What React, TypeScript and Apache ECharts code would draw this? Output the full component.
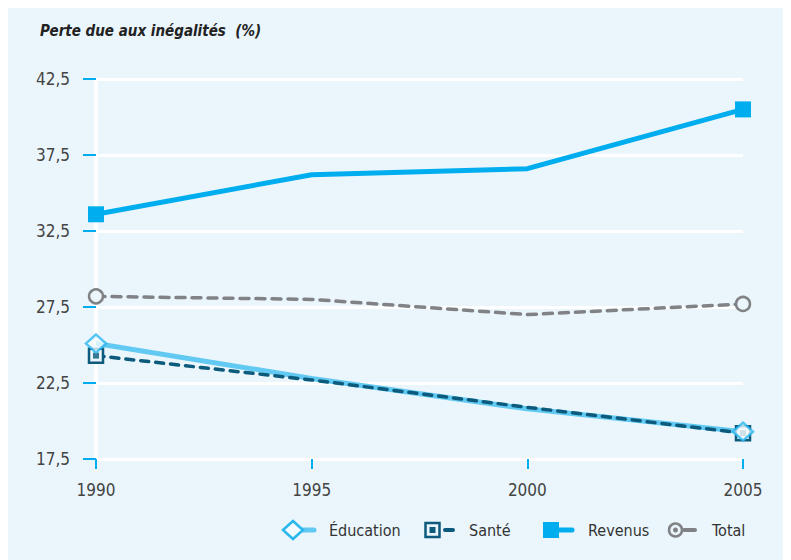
import React, { useEffect, useRef } from "react";
import * as echarts from "echarts";

const years = ["1990", "1995", "2000", "2005"];
const education = [25.1, 22.8, 20.8, 19.3];
const sante = [24.3, 22.7, 20.9, 19.2];
const revenus = [33.6, 36.2, 36.6, 40.5];
const total = [28.2, 28.0, 27.0, 27.7];
const seriesNames = ["Éducation", "Santé", "Revenus", "Total"];
const yMin = 17.5;
const yMax = 42.5;
const yStep = 5;

const BG = "#eaf6fc";
const C_EDU_LINE = "#62caf2";
const C_EDU_MARK = "#2ab7ee";
const C_SANTE = "#0c5a7c";
const C_REV = "#00aeef";
const C_TOT = "#808285";
const FONT = "'Liberation Sans Narrow', 'DejaVu Sans Condensed', sans-serif";

const isEnd = (i: number, arr: number[]) => i === 0 || i === arr.length - 1;
const endsOnlyLine = (arr: number[]) =>
  arr.map((v, i) => (isEnd(i, arr) ? v : { value: v, symbol: "none" }));
const endsOnlyScatter = (arr: number[]) =>
  arr.map((v, i) => [i, v]).filter((_, i) => isEnd(i, arr));

export default function App() {
  const ref = useRef<HTMLDivElement>(null);
  useEffect(() => {
    if (!ref.current) return;
    const chart = echarts.init(ref.current, null, { renderer: "svg" });
    const ly = 522;
    const legendText = (x: number, t: string) => ({
      type: "text",
      x,
      y: ly,
      style: { text: t, fill: "#333", font: `16px ${FONT}`, verticalAlign: "middle", align: "left" },
    });
    const stub = (x1: number, x2: number, color: string, w: number) => ({
      type: "line",
      shape: { x1, y1: ly, x2, y2: ly },
      style: { stroke: color, lineWidth: w, lineCap: "round" },
    });
    chart.setOption({
      animation: false,
      backgroundColor: BG,
      textStyle: { fontFamily: FONT },
      title: {
        text: "Perte due aux inégalités  (%)",
        left: 32,
        top: 15,
        padding: 0,
        textStyle: { fontSize: 15, fontWeight: "bold", fontStyle: "italic", color: "#222", fontFamily: FONT },
      },
      grid: { left: 88, right: 48, top: 71, bottom: 101 },
      xAxis: {
        type: "category",
        data: years,
        boundaryGap: false,
        axisLine: { show: false },
        axisTick: { show: true, length: 10, lineStyle: { color: C_REV, width: 2 } },
        axisLabel: { margin: 22, fontSize: 17, color: "#444", fontFamily: FONT },
        splitLine: { show: false },
      },
      yAxis: {
        type: "value",
        min: yMin,
        max: yMax,
        interval: yStep,
        axisLine: { show: true, lineStyle: { color: "#ffffff", width: 4 } },
        axisTick: { show: true, length: 13, lineStyle: { color: C_REV, width: 2 } },
        axisLabel: {
          margin: 26,
          fontSize: 17,
          color: "#444",
          fontFamily: FONT,
          formatter: (v: number) => v.toFixed(1).replace(".", ","),
        },
        splitLine: { show: true, lineStyle: { color: "#ffffff", width: 3 } },
      },
      series: [
        {
          name: seriesNames[3],
          type: "line",
          data: endsOnlyLine(total),
          lineStyle: { color: C_TOT, width: 3.5, type: [9, 7], cap: "round" },
          symbol: "circle",
          symbolSize: 14,
          itemStyle: { color: BG, borderColor: C_TOT, borderWidth: 2.5 },
          z: 2,
        },
        {
          name: seriesNames[0],
          type: "line",
          data: education,
          lineStyle: { color: C_EDU_LINE, width: 5 },
          symbol: "none",
          z: 3,
        },
        {
          name: seriesNames[1],
          type: "line",
          data: endsOnlyLine(sante),
          lineStyle: { color: C_SANTE, width: 3.5, type: [8, 7], cap: "round" },
          symbol: "rect",
          symbolSize: 14,
          itemStyle: { color: BG, borderColor: C_SANTE, borderWidth: 2.5 },
          z: 4,
        },
        {
          name: seriesNames[1] + "-dot",
          type: "scatter",
          data: endsOnlyScatter(sante),
          symbol: "rect",
          symbolSize: 6,
          itemStyle: { color: C_SANTE },
          z: 5,
        },
        {
          name: seriesNames[0] + "-mark",
          type: "scatter",
          data: endsOnlyScatter(education),
          symbol: "diamond",
          symbolSize: [20, 18],
          itemStyle: { color: "#f4fbfe", borderColor: C_EDU_MARK, borderWidth: 2.5 },
          z: 6,
        },
        {
          name: seriesNames[2],
          type: "line",
          data: endsOnlyLine(revenus),
          lineStyle: { color: C_REV, width: 5 },
          symbol: "rect",
          symbolSize: 16,
          itemStyle: { color: C_REV },
          z: 7,
        },
      ],
      graphic: [
        stub(293, 306, C_EDU_LINE, 5),
        {
          type: "polygon",
          shape: { points: [[275, ly], [285, ly - 9], [295, ly], [285, ly + 9]] },
          style: { fill: "#f4fbfe", stroke: C_EDU_MARK, lineWidth: 2.5 },
        },
        legendText(321, seriesNames[0]),
        stub(437, 445, C_SANTE, 4),
        {
          type: "rect",
          shape: { x: 417.5, y: ly - 7, width: 14, height: 14 },
          style: { fill: BG, stroke: C_SANTE, lineWidth: 2.5 },
        },
        { type: "rect", shape: { x: 421.5, y: ly - 3, width: 6, height: 6 }, style: { fill: C_SANTE } },
        legendText(461, seriesNames[1]),
        stub(551, 564, C_REV, 5),
        { type: "rect", shape: { x: 535, y: ly - 8, width: 16, height: 16 }, style: { fill: C_REV } },
        legendText(580, seriesNames[2]),
        stub(676, 687, C_TOT, 4),
        {
          type: "circle",
          shape: { cx: 667.5, cy: ly, r: 6.5 },
          style: { fill: BG, stroke: C_TOT, lineWidth: 2.5 },
        },
        { type: "circle", shape: { cx: 667.5, cy: ly, r: 2.5 }, style: { fill: C_TOT } },
        legendText(704, seriesNames[3]),
      ],
    });
    return () => chart.dispose();
  }, []);
  return <div ref={ref} style={{ width: 783, height: 552 }} />;
}
